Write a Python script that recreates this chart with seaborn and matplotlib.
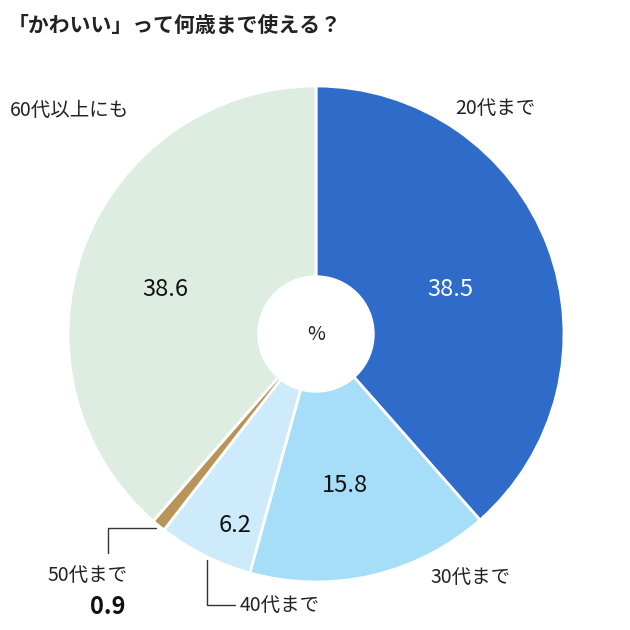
import matplotlib
matplotlib.use("Agg")
import matplotlib.pyplot as plt
import seaborn as sns

sns.set_theme(style="white")
plt.rcParams["font.family"] = "Noto Sans CJK JP"

categories = ["20代まで", "30代まで", "40代まで", "50代まで", "60代以上にも"]
values = [38.5, 15.8, 6.2, 0.9, 38.6]
colors = ["#2f6bc8", "#a6def9", "#cdebfa", "#b99458", "#deede2"]

fig = plt.figure(figsize=(6.3, 6.3), dpi=100)
ax = fig.add_axes([0, 0, 1, 1])
ax.set_xlim(0, 630)
ax.set_ylim(0, 630)
ax.set_aspect("equal")
ax.axis("off")

cx, cy, r = 316, 630 - 334, 248
ax.pie(values, colors=colors, startangle=90, counterclock=False,
       center=(cx, cy), radius=r, frame=True,
       wedgeprops=dict(edgecolor="white", linewidth=2))
ax.add_patch(plt.Circle((cx, cy), 58, color="white", zorder=3))
ax.set_xlim(0, 630)
ax.set_ylim(0, 630)
ax.axis("off")
ax.text(cx, cy, "%", ha="center", va="center", fontsize=14, color="#222", zorder=4)

def px(x, y):
    return x, 630 - y

fig.text(8 / 630, 1 - 25 / 630, "「かわいい」って何歳まで使える？", fontsize=15,
         fontweight="bold", va="center", color="#222")

lab = dict(fontsize=14, color="#222", va="center")
ax.text(*px(455, 108), categories[0], ha="left", **lab)
ax.text(*px(430, 577), categories[1], ha="left", **lab)
ax.text(*px(240, 605), categories[2], ha="left", **lab)
ax.text(*px(48, 575), categories[3], ha="left", **lab)
ax.text(*px(10, 110), categories[4], ha="left", **lab)

num = dict(fontsize=17, va="center", ha="center")
ax.text(*px(450, 290), f"{values[0]}", color="white", **num)
ax.text(*px(345, 485), f"{values[1]}", color="#111", **num)
ax.text(*px(235, 525), f"{values[2]}", color="#111", **num)
ax.text(*px(108, 607), f"{values[3]}", color="#111", fontsize=17,
        fontweight="bold", va="center", ha="center")
ax.text(*px(165, 290), f"{values[4]}", color="#111", **num)

lc = dict(color="#333", lw=1)
ax.plot([156, 108, 108], [630 - 528, 630 - 528, 630 - 553], **lc)
ax.plot([207, 207, 235], [630 - 560, 630 - 605, 630 - 605], **lc)

fig.savefig("out.png", dpi=100, facecolor="white")
